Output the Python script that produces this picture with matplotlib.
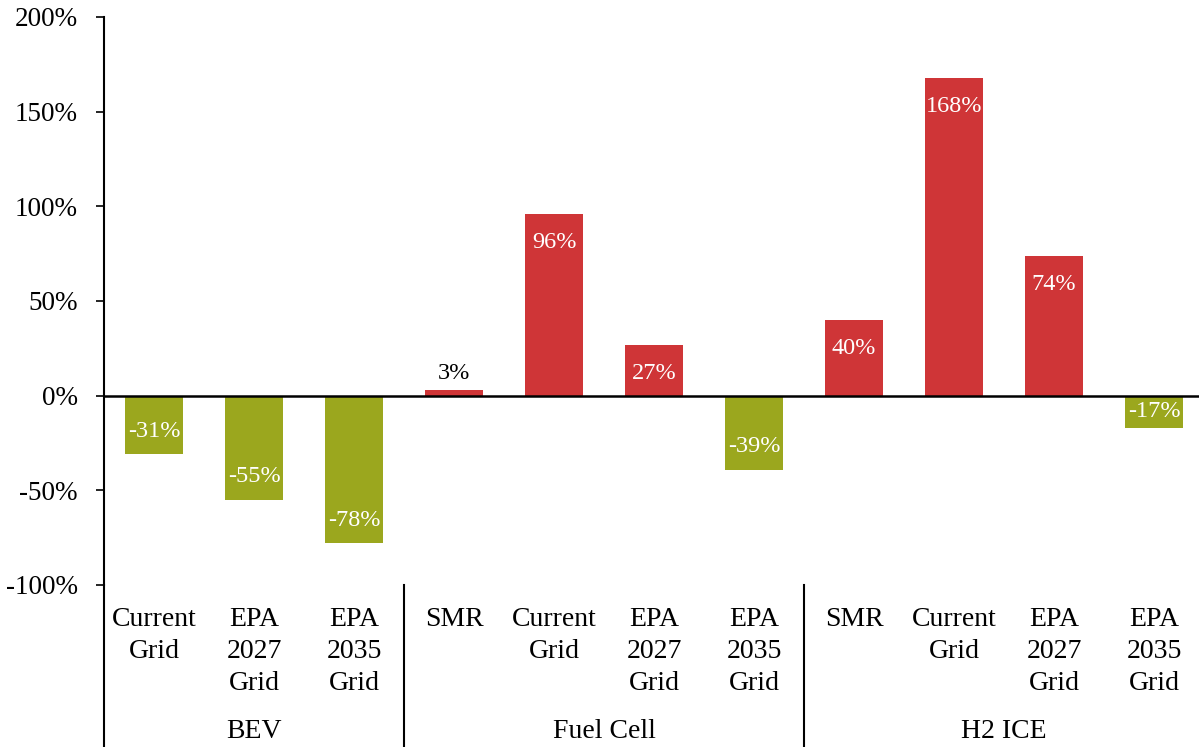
import matplotlib
matplotlib.use("Agg")
import matplotlib.pyplot as plt
import matplotlib.transforms as mtransforms

categories = ["Current\nGrid", "EPA\n2027\nGrid", "EPA\n2035\nGrid",
              "SMR", "Current\nGrid", "EPA\n2027\nGrid", "EPA\n2035\nGrid",
              "SMR", "Current\nGrid", "EPA\n2027\nGrid", "EPA\n2035\nGrid"]
groups = ["BEV", "Fuel Cell", "H2 ICE"]
group_sizes = [3, 4, 4]
values = [-31, -55, -78, 3, 96, 27, -39, 40, 168, 74, -17]
yticks = [-100, -50, 0, 50, 100, 150, 200]

GREEN = "#9ba71e"
RED = "#cf3537"

plt.rcParams['font.family'] = ['Liberation Serif', 'DejaVu Serif']

W, H = 1199, 747
fig = plt.figure(figsize=(W / 100, H / 100), dpi=100)
left_px, right_px, top_px, bot_px = 104, 1204, 17, 585
ax = fig.add_axes([left_px / W, 1 - bot_px / H, (right_px - left_px) / W, (bot_px - top_px) / H])

x = list(range(len(values)))
colors = [GREEN if v < 0 else RED for v in values]
ax.bar(x, values, width=0.58, color=colors, zorder=2)
ax.set_xlim(-0.5, len(values) - 0.5)
ax.set_ylim(-100, 200)
ax.set_yticks(yticks)
ax.set_yticklabels([f"{t}%" for t in yticks], fontsize=19.5)
ax.tick_params(axis='y', direction='out', length=5.8, width=1.2, pad=13)
ax.set_xticks([])
for s in ["top", "right", "bottom"]:
    ax.spines[s].set_visible(False)
ax.spines["left"].set_linewidth(1.5)
ax.axhline(0, color="black", linewidth=1.8, zorder=3)

# value labels
px_per_unit = (bot_px - top_px) / 300.0
for xi, v in zip(x, values):
    h_px = abs(v) * px_per_unit
    if h_px < 15:
        ax.annotate(f"{v}%", (xi, v), xytext=(0, 6), textcoords="offset pixels",
                    ha="center", va="bottom", fontsize=17.5, color="black")
    elif h_px < 50:
        ax.text(xi, v / 2, f"{v}%", ha="center", va="center", fontsize=17.5, color="white")
    else:
        off = -29 if v > 0 else 23
        ax.annotate(f"{v}%", (xi, v), xytext=(0, off), textcoords="offset pixels",
                    ha="center", va="center", fontsize=17.5, color="white")

# category labels
trans = mtransforms.blended_transform_factory(ax.transData, fig.transFigure)
line_y = [619, 651, 683]
for xi, lab in zip(x, categories):
    for i, line in enumerate(lab.split("\n")):
        ax.text(xi, 1 - line_y[i] / H, line, transform=trans, ha="center", va="center",
                fontsize=20, clip_on=False)

# group labels and separators
start = 0
for g, n in zip(groups, group_sizes):
    center = start + (n - 1) / 2
    ax.text(center, 1 - 732 / H, g, transform=trans, ha="center", va="center",
            fontsize=20, clip_on=False)
    edge = start - 0.5
    ax.plot([edge, edge], [1 - bot_px / H, 0], transform=trans, color="black",
            linewidth=1.5, clip_on=False)
    start += n

fig.savefig("out.png", dpi=100)
